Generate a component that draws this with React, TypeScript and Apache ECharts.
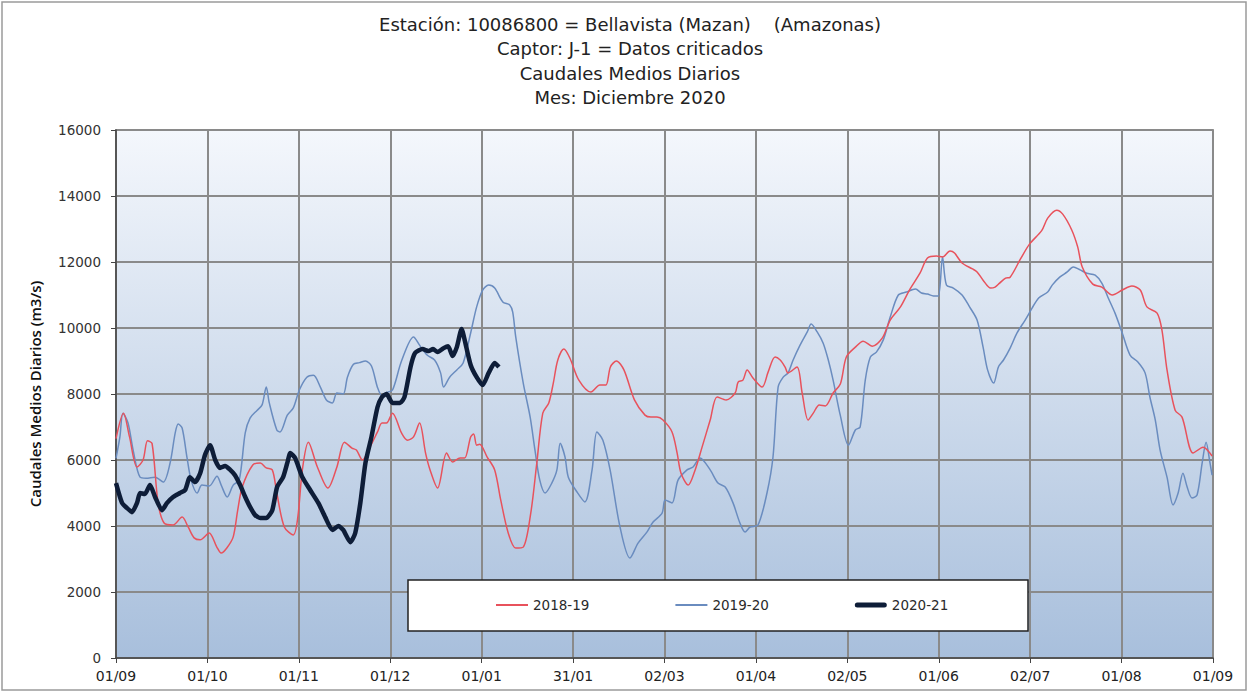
import React, { useEffect, useRef } from "react";
import * as echarts from "echarts";

const xLabels = ["01/09", "01/10", "01/11", "01/12", "01/01", "31/01", "02/03", "01/04", "02/05", "01/06", "02/07", "01/08", "01/09"];
const yTicks = [0, 2000, 4000, 6000, 8000, 10000, 12000, 14000, 16000];
const seriesNames = ["2018-19", "2019-20", "2020-21"];
const titleLines = [
  "Estación: 10086800 = Bellavista (Mazan)    (Amazonas)",
  "Captor: J-1 = Datos criticados",
  "Caudales Medios Diarios",
  "Mes: Diciembre 2020",
];

// [day since 01/09, caudal m3/s]
const days1819 = [0, 2.5, 4.5, 7, 9, 10.5, 12, 14, 16, 19, 22, 24, 26, 28, 31, 33.5, 35, 37, 39, 40.5, 42, 45.5, 48, 50, 52, 53.5, 56, 59, 60.5, 62, 64, 67, 70.5, 73.5, 76, 78.5, 80, 82, 84.5, 87, 88.5, 90, 92, 95, 97, 99, 101, 103, 104.5, 107, 110, 112, 114.5, 116, 118, 119, 120, 121, 123.5, 126, 128, 130.5, 133, 135.5, 138, 140, 142, 144, 145.5, 147, 149, 151, 154, 158, 161, 163, 164.5, 166.5, 169, 172.5, 176, 178, 180, 182, 185, 186.7, 188, 190.4, 192.7, 195, 197.7, 200, 203, 206, 207, 208.6, 210, 212, 215, 217, 219.3, 221, 222.6, 223.6, 226.6, 228.3, 230.3, 232, 234, 236, 238.6, 241, 243, 246, 248.6, 251.6, 255, 257.6, 261, 264, 267.5, 270, 273, 275, 277.5, 279, 281.5, 285, 286.5, 288.5, 291, 292.5, 294, 296, 297.5, 301, 304, 308, 310, 313, 315, 318, 320, 321.5, 325, 328, 331.5, 334.8, 338, 340.8, 343, 346.4, 348, 349.7, 352.4, 354.7, 358.4, 361.7, 364.7];
const vals1819 = [6650, 7420, 6700, 5790, 6000, 6580, 6500, 4700, 4090, 4030, 4270, 3970, 3640, 3580, 3790, 3370, 3180, 3350, 3670, 4480, 5180, 5850, 5910, 5760, 5700, 5000, 3970, 3730, 4270, 5700, 6540, 5790, 5150, 5790, 6540, 6360, 6300, 6000, 6390, 6850, 7120, 7120, 7420, 6820, 6600, 6700, 7120, 6210, 5700, 5150, 6210, 5940, 6060, 6060, 6700, 6790, 6450, 6480, 6090, 5700, 4790, 3790, 3330, 3360, 4390, 5900, 7420, 7730, 8330, 9030, 9360, 9090, 8420, 8060, 8270, 8270, 8820, 9000, 8730, 7820, 7360, 7300, 7300, 7210, 6850, 6210, 5600, 5240, 5700, 6390, 7210, 7910, 7820, 8030, 8360, 8420, 8730, 8480, 8210, 8670, 9120, 9030, 8820, 8640, 8820, 8030, 7210, 7420, 7670, 7640, 8030, 8300, 9120, 9420, 9600, 9450, 9700, 10240, 10640, 11150, 11660, 12120, 12180, 12150, 12330, 12270, 11970, 11790, 11700, 11450, 11210, 11240, 11360, 11510, 11540, 12100, 12550, 12950, 13330, 13570, 13450, 12970, 12450, 11850, 11330, 11240, 11000, 11150, 11270, 11150, 10640, 10450, 9940, 8730, 7510, 7300, 6210, 6390, 6120];

const days1920 = [0, 1.3, 2.3, 4, 5.7, 8, 10, 13, 15.7, 18, 19.7, 20.7, 22, 23.6, 25, 27, 28.6, 31, 33.6, 35, 37, 39, 41, 43, 44.6, 47, 48.6, 50, 51, 53.5, 54.6, 57, 59, 61, 63.5, 65.7, 68, 70, 72, 73.5, 75.6, 77, 79, 81, 83, 85, 87, 88.5, 90, 92, 95, 99, 101, 103.5, 106, 108, 109, 111, 113.4, 115.5, 118, 120, 122, 124, 126, 128.7, 131, 132, 133, 135.5, 137.8, 139.4, 141, 142.8, 145, 146.7, 147.8, 149.4, 150.5, 153.4, 156, 158.4, 160, 162, 164.4, 167.7, 171, 173.7, 176.7, 178.7, 181.7, 182.7, 185, 187, 190, 192, 194.3, 197.7, 200.3, 202.7, 205.3, 207.6, 209.3, 211, 213.6, 216.6, 218.6, 220.3, 222, 223.6, 225.3, 227.6, 230, 231.3, 233.3, 235.3, 237, 238.6, 241, 243.7, 246, 247.6, 249.3, 251, 253, 255.3, 257.6, 260.3, 263, 266, 268, 270, 272, 273.6, 275, 276.3, 278.6, 281.5, 284, 286.5, 288.5, 290, 292, 293.6, 295.3, 297.5, 299.8, 302.5, 304.8, 307, 310, 311.5, 314, 316.5, 318.5, 320.8, 323, 325.8, 328, 330, 332.4, 334.8, 337.4, 340, 342.4, 344, 345.8, 347.4, 349.7, 351.7, 353.4, 355, 356.4, 358, 359.7, 361.4, 362.7, 364, 364.7];
const vals1920 = [6050, 6700, 7420, 7120, 6300, 5480, 5450, 5480, 5330, 5910, 6820, 7090, 6970, 6090, 5390, 5000, 5240, 5210, 5510, 5240, 4880, 5240, 5390, 6820, 7270, 7510, 7670, 8210, 7730, 6910, 6850, 7360, 7580, 8120, 8510, 8570, 8210, 7820, 7730, 8030, 8000, 8510, 8900, 8950, 9000, 8850, 8200, 7950, 8050, 8120, 9000, 9730, 9480, 9180, 9030, 8640, 8210, 8510, 8730, 8940, 9850, 10640, 11150, 11300, 11210, 10790, 10700, 10480, 9730, 8330, 7300, 6300, 5390, 5000, 5300, 5700, 6510, 6090, 5480, 5030, 4730, 5700, 6850, 6600, 5700, 3970, 3030, 3480, 3820, 4120, 4390, 4790, 4700, 5390, 5700, 5790, 6060, 5700, 5300, 5180, 4700, 4090, 3820, 3970, 4030, 5000, 6090, 8210, 8510, 8640, 9030, 9480, 9880, 10120, 9880, 9540, 9030, 8420, 7350, 6450, 6910, 7000, 8420, 9120, 9270, 9640, 10330, 11000, 11090, 11180, 11060, 11030, 10970, 10970, 12150, 11300, 11210, 11000, 10640, 10240, 9420, 8730, 8330, 8820, 9030, 9390, 9850, 10240, 10600, 10910, 11090, 11300, 11540, 11700, 11850, 11760, 11660, 11600, 11360, 10940, 10450, 9850, 9180, 8970, 8640, 7910, 7210, 6300, 5480, 4640, 5000, 5600, 5180, 4850, 4940, 5910, 6540, 5910, 5540];

const days2021 = [0, 2, 3.6, 5.3, 7, 8, 9.6, 11.3, 13, 15.3, 17, 19, 21.3, 23, 24.6, 26.3, 28, 29.6, 31.3, 33, 34.6, 36.3, 38, 39.6, 41.3, 43, 44.6, 46.3, 48, 50, 52, 53.6, 55.6, 57, 58, 59.6, 62, 64.6, 67.3, 69.6, 72, 74, 75.6, 78, 79.6, 81.3, 83, 85, 87, 88.5, 90, 92, 94.5, 96, 98, 99.5, 102, 104, 105.5, 107, 109, 110.5, 112, 113.4, 115, 116, 118, 120, 122, 124, 126, 127.4];
const vals2021 = [5300, 4700, 4550, 4420, 4700, 5000, 4970, 5240, 4880, 4480, 4700, 4880, 5000, 5090, 5480, 5330, 5600, 6150, 6450, 6000, 5760, 5820, 5700, 5540, 5240, 4880, 4580, 4330, 4240, 4240, 4480, 5180, 5480, 5910, 6210, 6060, 5480, 5090, 4700, 4270, 3880, 4000, 3880, 3510, 3790, 4700, 5910, 6700, 7600, 7910, 8000, 7730, 7730, 7910, 8820, 9240, 9360, 9300, 9360, 9270, 9390, 9450, 9150, 9420, 9970, 9640, 8880, 8510, 8270, 8640, 8940, 8820];

const YEAR_DAYS = 365;
const toPairs = (days: number[], vals: number[]) =>
  days.map((d, i) => [(d * 12) / YEAR_DAYS, vals[i]]);

const thinIcon = "path://M0,0H32V2H0Z";
const thickIcon = "path://M2.5,0H29.5A2.5,2.5,0,0,1,29.5,5H2.5A2.5,2.5,0,0,1,2.5,0Z";

export default function App() {
  const ref = useRef<HTMLDivElement>(null);
  useEffect(() => {
    if (!ref.current) return;
    const chart = echarts.init(ref.current, null, { renderer: "svg" });
    chart.setOption({
      animation: false,
      backgroundColor: "#ffffff",
      title: {
        text: titleLines.join("\n"),
        left: 625,
        top: 7,
        textAlign: "center",
        textStyle: {
          fontFamily: "DejaVu Sans",
          fontSize: 18,
          fontWeight: "normal",
          lineHeight: 24.5,
          color: "#222222",
        },
      },
      graphic: [
        {
          type: "rect",
          z: 0,
          shape: { x: 2, y: 2, width: 1244, height: 688 },
          style: { fill: "none", stroke: "#9a9a9a", lineWidth: 1.5 },
        },
        {
          type: "rect",
          z: 10,
          shape: { x: 408, y: 580, width: 620, height: 51 },
          style: { fill: "#ffffff", stroke: "#222222", lineWidth: 1.5 },
        },
      ],
      legend: {
        data: [
          { name: seriesNames[0], icon: thinIcon },
          { name: seriesNames[1], icon: thinIcon },
          { name: seriesNames[2], icon: thickIcon },
        ],
        left: 496,
        top: 598,
        z: 11,
        padding: 0,
        itemGap: 86,
        itemWidth: 32,
        itemHeight: 14,
        textStyle: { fontFamily: "DejaVu Sans", fontSize: 13.5, color: "#2a2a2a" },
      },
      grid: {
        left: 116,
        right: 37,
        top: 130,
        bottom: 35,
        show: true,
        borderColor: "#555555",
        borderWidth: 1.5,
        backgroundColor: {
          type: "linear",
          x: 0,
          y: 0,
          x2: 0,
          y2: 1,
          colorStops: [
            { offset: 0, color: "#f4f7fc" },
            { offset: 1, color: "#a8bfdc" },
          ],
        },
      },
      xAxis: {
        type: "value",
        min: 0,
        max: 12,
        interval: 1,
        axisLine: { show: true, onZero: false, lineStyle: { color: "#444", width: 1.5 } },
        axisTick: { show: true, length: 5, lineStyle: { color: "#444" } },
        axisLabel: {
          formatter: (v: number) => xLabels[Math.round(v)] ?? "",
          fontFamily: "DejaVu Sans",
          fontSize: 14,
          color: "#222",
          margin: 11,
        },
        splitLine: { show: true, lineStyle: { color: "#8a8a8a", width: 2 } },
      },
      yAxis: {
        type: "value",
        min: yTicks[0],
        max: yTicks[yTicks.length - 1],
        interval: 2000,
        name: "Caudales Medios Diarios (m3/s)",
        nameLocation: "middle",
        nameGap: 74,
        nameRotate: 90,
        nameTextStyle: { fontFamily: "Open Sans", fontSize: 15, fontWeight: 600, color: "#111" },
        axisLine: { show: true, lineStyle: { color: "#444", width: 1.5 } },
        axisTick: { show: true, length: 5, lineStyle: { color: "#444" } },
        axisLabel: {
          formatter: (v: number) => String(v),
          fontFamily: "DejaVu Sans",
          fontSize: 13.5,
          color: "#333",
          margin: 15,
        },
        splitLine: { show: true, lineStyle: { color: "#8a8a8a", width: 2 } },
      },
      series: [
        {
          name: seriesNames[0],
          type: "line",
          data: toPairs(days1819, vals1819),
          symbol: "none",
          smooth: 0.3,
          z: 3,
          lineStyle: { color: "#e8525c", width: 1.5 },
          itemStyle: { color: "#e8525c" },
        },
        {
          name: seriesNames[1],
          type: "line",
          data: toPairs(days1920, vals1920),
          symbol: "none",
          smooth: 0.3,
          z: 2,
          lineStyle: { color: "#6a8cbf", width: 1.5 },
          itemStyle: { color: "#6a8cbf" },
        },
        {
          name: seriesNames[2],
          type: "line",
          data: toPairs(days2021, vals2021),
          symbol: "none",
          smooth: 0.2,
          z: 4,
          lineStyle: { color: "#0e1d38", width: 4.5 },
          itemStyle: { color: "#0e1d38" },
        },
      ],
    });
    return () => chart.dispose();
  }, []);
  return (
    <div
      ref={ref}
      style={{ position: "fixed", left: 0, top: 0, width: 1250, height: 693 }}
    />
  );
}
